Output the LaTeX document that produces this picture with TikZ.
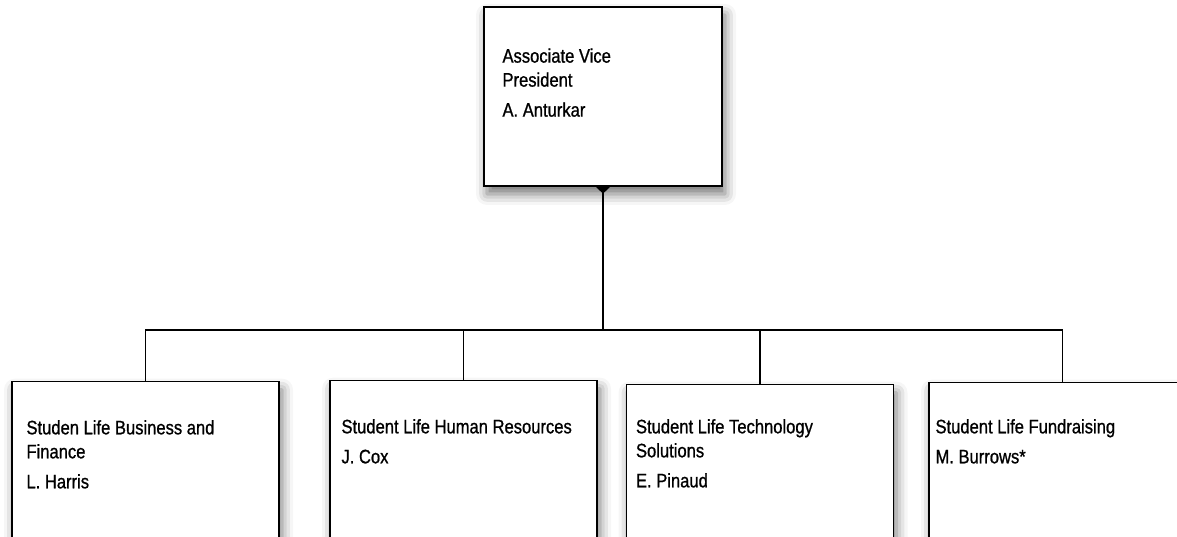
\documentclass[tikz,border=0pt]{standalone}
\usepackage{fontspec}
\setmainfont{Liberation Sans}[FakeStretch=0.85, FakeBold=0.9]
\usetikzlibrary{positioning, arrows.meta, shadows.blur}
\tikzstyle{link} = [line width=1.6pt]

\begin{document}
\begin{tikzpicture}[
            x=1pt, y=1pt,
            box/.style={draw, line width=1.4pt, fill=white, inner sep=0pt,
                minimum width=267pt, minimum height=180pt,
                blur shadow={shadow xshift=3pt, shadow yshift=-8pt, shadow blur radius=11pt, shadow opacity=55}},
            lbl/.style={align=left, inner sep=0pt, font=\fontsize{19.5}{24}\selectfont}
        ]
            \useasboundingbox (0,0) rectangle (1177,537);
            \node[box, minimum width=238pt, minimum height=179pt] (avp) at (603,440.5) {};
            \node[box, anchor=north] (finance) at (145.5,156) {};
            \node[box, anchor=north] (hr) at (463.5,157) {};
            \node[box, anchor=north] (tech) at (760,153) {};
            \node[box, anchor=north] (fund) at (1062.5,155) {};

            \node[lbl, below right=42pt and 19pt of avp.north west] (avptxt) {Associate Vice\\President\\[6pt]A. Anturkar};
            \node[lbl, below right=39pt and 15pt of finance.north west] (financetxt) {Studen Life Business and\\Finance\\[6pt]L. Harris};
            \node[lbl, below right=39pt and 12pt of hr.north west] (hrtxt) {Student Life Human Resources\\[6pt]J. Cox};
            \node[lbl, below right=35pt and 10pt of tech.north west] (techtxt) {Student Life Technology\\Solutions\\[6pt]E. Pinaud};
            \node[lbl, below right=37pt and 7pt of fund.north west] (fundtxt) {Student Life Fundraising\\[6pt]M. Burrows*};

            \coordinate (bus) at (avp.south |- 0,207);
            \draw[link, {Triangle[reversed, width=14pt, length=7pt]}-] (avp.south) -- (bus);
            \draw[link] (finance.north) |- (bus);
            \draw[link] (hr.north) |- (bus);
            \draw[link] (tech.north) |- (bus);
            \draw[link] (fund.north) |- (bus);
        \end{tikzpicture}
\end{document}
